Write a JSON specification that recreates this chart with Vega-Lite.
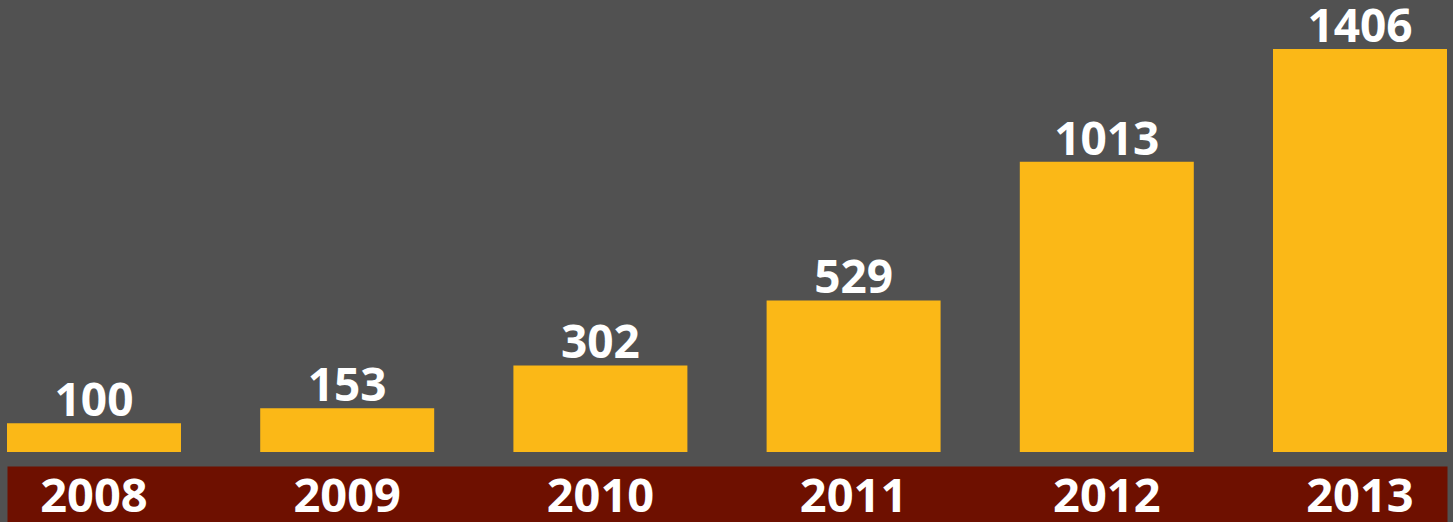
{
  "$schema": "https://vega.github.io/schema/vega-lite/v6.json",
  "width": 1440,
  "height": 452,
  "autosize": {"type": "none"},
  "padding": {"left": 7, "top": 0, "right": 6, "bottom": 70},
  "background": "#515151",
  "config": {"view": {"stroke": null}},
  "data": {
    "values": [
      {"year": "2008", "value": 100},
      {"year": "2009", "value": 153},
      {"year": "2010", "value": 302},
      {"year": "2011", "value": 529},
      {"year": "2012", "value": 1013},
      {"year": "2013", "value": 1406}
    ]
  },
  "encoding": {
    "y": {
      "field": "value",
      "type": "quantitative",
      "scale": {"domain": [0, 1577], "nice": false},
      "axis": null
    }
  },
  "layer": [
    {
      "mark": {"type": "bar", "color": "#FBB817"},
      "encoding": {
        "x": {
          "field": "year",
          "type": "nominal",
          "sort": null,
          "scale": {"paddingInner": 0.3128, "paddingOuter": 0},
          "axis": {
            "orient": "bottom",
            "title": null,
            "labels": false,
            "ticks": false,
            "tickSize": 0,
            "domainColor": "#6E1000",
            "domainWidth": 56,
            "offset": 42,
            "zindex": 0
          }
        }
      }
    },
    {
      "mark": {
        "type": "text",
        "baseline": "alphabetic",
        "dy": -7,
        "font": "Open Sans",
        "fontWeight": "bold",
        "fontSize": 46,
        "color": "#FFFFFF"
      },
      "encoding": {
        "x": {
          "field": "year",
          "type": "nominal",
          "sort": null,
          "axis": {
            "orient": "bottom",
            "title": null,
            "labelAngle": 0,
            "domain": false,
            "ticks": false,
            "tickSize": 0,
            "offset": 42,
            "zindex": 1,
            "labelBaseline": "alphabetic",
            "labelPadding": 17,
            "labelFont": "Open Sans",
            "labelFontWeight": "bold",
            "labelFontSize": 47,
            "labelColor": "#FFFFFF"
          }
        },
        "text": {"field": "value", "type": "quantitative"}
      }
    }
  ],
  "resolve": {"axis": {"x": "independent"}}
}
